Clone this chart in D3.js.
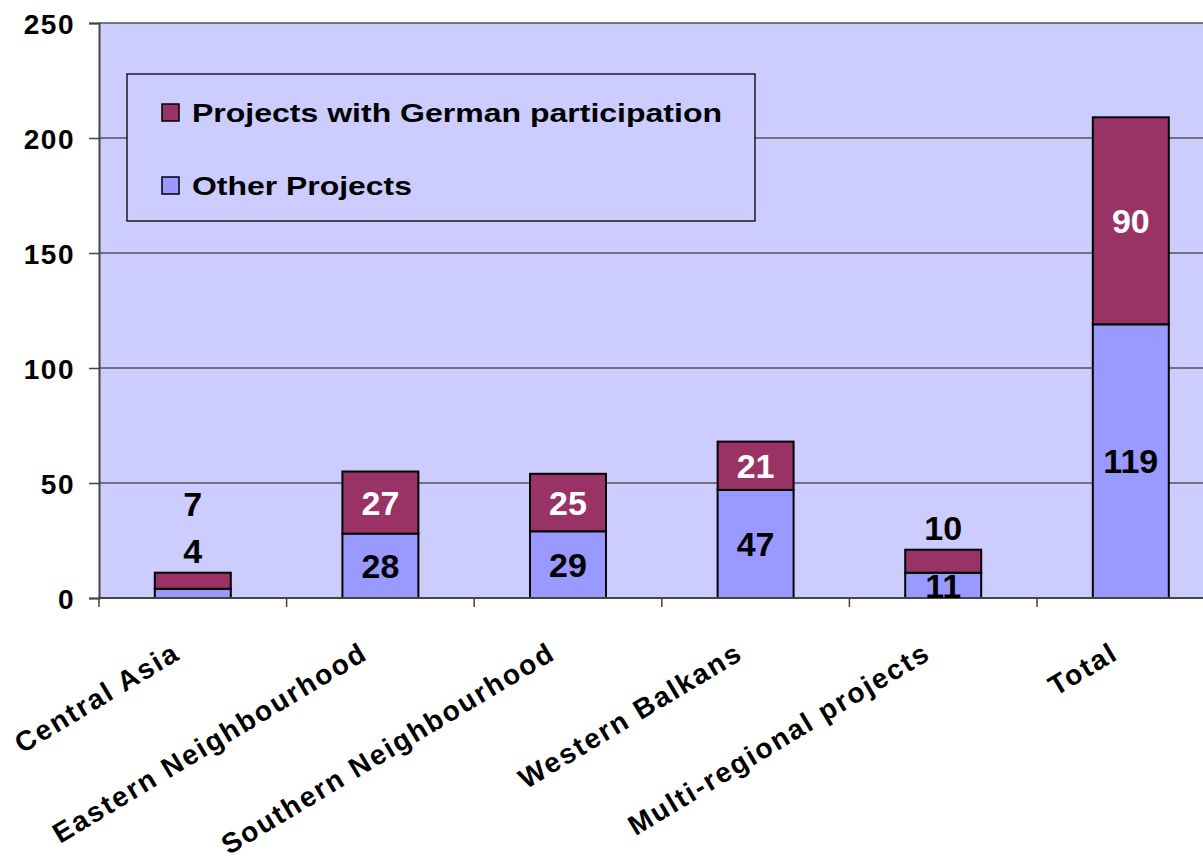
<!DOCTYPE html>
<html>
<head>
<meta charset="utf-8">
<script src="https://cdn.jsdelivr.net/npm/d3@7"></script>
<style>
  body { margin: 0; background: #fff; }
  text { font-family: "Liberation Sans", Arial, sans-serif; font-weight: bold; }
</style>
</head>
<body>
<script>
// chart data
var categories = ["Central Asia", "Eastern Neighbourhood", "Southern Neighbourhood",
                  "Western Balkans", "Multi-regional projects", "Total"];
var otherProjects = [4, 28, 29, 47, 11, 119];
var germanProjects = [7, 27, 25, 21, 10, 90];
var seriesNames = ["Projects with German participation", "Other Projects"];
var yTicks = [0, 50, 100, 150, 200, 250];

var width = 1203, height = 858;
var plotLeft = 99, plotTop = 23, plotBottom = 598,
    step = 187.6,
    plotRight = plotLeft + step * categories.length;  // plot runs off the right edge

var colorOther = "#9999ff", colorGerman = "#993366";

var svg = d3.select("body").append("svg")
    .attr("width", width)
    .attr("height", height);

var x = d3.scaleBand()
    .domain(categories)
    .range([plotLeft, plotRight])
    .paddingInner(0.595)
    .paddingOuter(0.2975);

var y = d3.scaleLinear()
    .domain([0, 250])
    .range([plotBottom, plotTop]);

// plot background
svg.append("rect")
    .attr("x", plotLeft).attr("y", plotTop)
    .attr("width", plotRight - plotLeft).attr("height", plotBottom - plotTop)
    .attr("fill", "#ccccff");

// gridlines
svg.append("g").selectAll("line")
    .data(yTicks.slice(1))
    .enter().append("line")
    .attr("x1", plotLeft).attr("x2", plotRight)
    .attr("y1", function(d) { return y(d); })
    .attr("y2", function(d) { return y(d); })
    .attr("stroke", "#555")
    .attr("stroke-width", 1.3);

// stacked bars
var rows = categories.map(function(c, i) {
    return { cat: c, other: otherProjects[i], german: germanProjects[i] };
});

var bars = svg.append("g").selectAll("g")
    .data(rows)
    .enter().append("g");

bars.append("rect")
    .attr("x", function(d) { return x(d.cat); })
    .attr("width", x.bandwidth())
    .attr("y", function(d) { return y(d.other); })
    .attr("height", function(d) { return y(0) - y(d.other); })
    .attr("fill", colorOther)
    .attr("stroke", "#000")
    .attr("stroke-width", 2);

bars.append("rect")
    .attr("x", function(d) { return x(d.cat); })
    .attr("width", x.bandwidth())
    .attr("y", function(d) { return y(d.other + d.german); })
    .attr("height", function(d) { return y(d.other) - y(d.other + d.german); })
    .attr("fill", colorGerman)
    .attr("stroke", "#000")
    .attr("stroke-width", 2);

// axes
var yAxis = d3.axisLeft(y).tickValues(yTicks).tickSize(10).tickPadding(14);
var gy = svg.append("g")
    .attr("transform", "translate(" + plotLeft + ",0)")
    .call(yAxis);
gy.select(".domain").attr("stroke", "#444").attr("stroke-width", 2);
gy.selectAll(".tick line").attr("stroke", "#444").attr("stroke-width", 1.5);
gy.selectAll(".tick text")
    .style("font-size", "28px")
    .style("letter-spacing", "1.5px")
    .attr("fill", "#000")
    .attr("dy", "0.36em");

svg.append("line")
    .attr("x1", plotLeft).attr("x2", plotRight)
    .attr("y1", plotBottom).attr("y2", plotBottom)
    .attr("stroke", "#444").attr("stroke-width", 2);

// category boundary ticks
svg.append("g").selectAll("line")
    .data(d3.range(categories.length + 1))
    .enter().append("line")
    .attr("x1", function(i) { return plotLeft + i * x.step(); })
    .attr("x2", function(i) { return plotLeft + i * x.step(); })
    .attr("y1", plotBottom).attr("y2", plotBottom + 9)
    .attr("stroke", "#444").attr("stroke-width", 1.5);

// rotated category labels
svg.append("g").selectAll("text")
    .data(categories)
    .enter().append("text")
    .attr("transform", function(d) {
        return "translate(" + (x(d) + x.bandwidth() / 2 - 11) + ",658) rotate(-31)";
    })
    .attr("text-anchor", "end")
    .style("font-size", "28px")
    .style("letter-spacing", "2px")
    .text(function(d) { return d; });

// value labels: inside the segment if it fits, otherwise stacked above the bar
var labels = [];
rows.forEach(function(d) {
    var segs = [
        { v: d.other, y0: 0, y1: d.other, fill: "#000" },
        { v: d.german, y0: d.other, y1: d.other + d.german, fill: "#fff" }
    ];
    var barTop = y(d.other + d.german), k = 0;
    segs.forEach(function(s) {
        var h = y(s.y0) - y(s.y1);
        if (h >= 24) {
            labels.push({ cat: d.cat, v: s.v, cy: (y(s.y0) + y(s.y1)) / 2, fill: s.fill });
        } else {
            labels.push({ cat: d.cat, v: s.v, cy: barTop - 22 - 47 * k, fill: "#000" });
            k++;
        }
    });
});

svg.append("g").selectAll("text")
    .data(labels)
    .enter().append("text")
    .attr("x", function(d) { return x(d.cat) + x.bandwidth() / 2; })
    .attr("y", function(d) { return d.cy; })
    .attr("dy", "0.36em")
    .attr("text-anchor", "middle")
    .attr("fill", function(d) { return d.fill; })
    .style("font-size", "34px")
    .text(function(d) { return d.v; });

// legend
var legend = svg.append("g");
legend.append("rect")
    .attr("x", 127).attr("y", 74)
    .attr("width", 628).attr("height", 147)
    .attr("fill", "#ccccff")
    .attr("stroke", "#000")
    .attr("stroke-width", 1.3);

var legendItems = [
    { name: seriesNames[0], color: colorGerman, len: 530 },
    { name: seriesNames[1], color: colorOther, len: 220 }
];

var li = legend.selectAll("g.item")
    .data(legendItems)
    .enter().append("g")
    .attr("class", "item")
    .attr("transform", function(d, i) { return "translate(0," + (i * 73) + ")"; });

li.append("rect")
    .attr("x", 162).attr("y", 104)
    .attr("width", 17).attr("height", 17)
    .attr("fill", function(d) { return d.color; })
    .attr("stroke", "#000")
    .attr("stroke-width", 1.5);

li.append("text")
    .attr("x", 192).attr("y", 122)
    .attr("textLength", function(d) { return d.len; })
    .attr("lengthAdjust", "spacingAndGlyphs")
    .style("font-size", "26px")
    .text(function(d) { return d.name; });
</script>
</body>
</html>
